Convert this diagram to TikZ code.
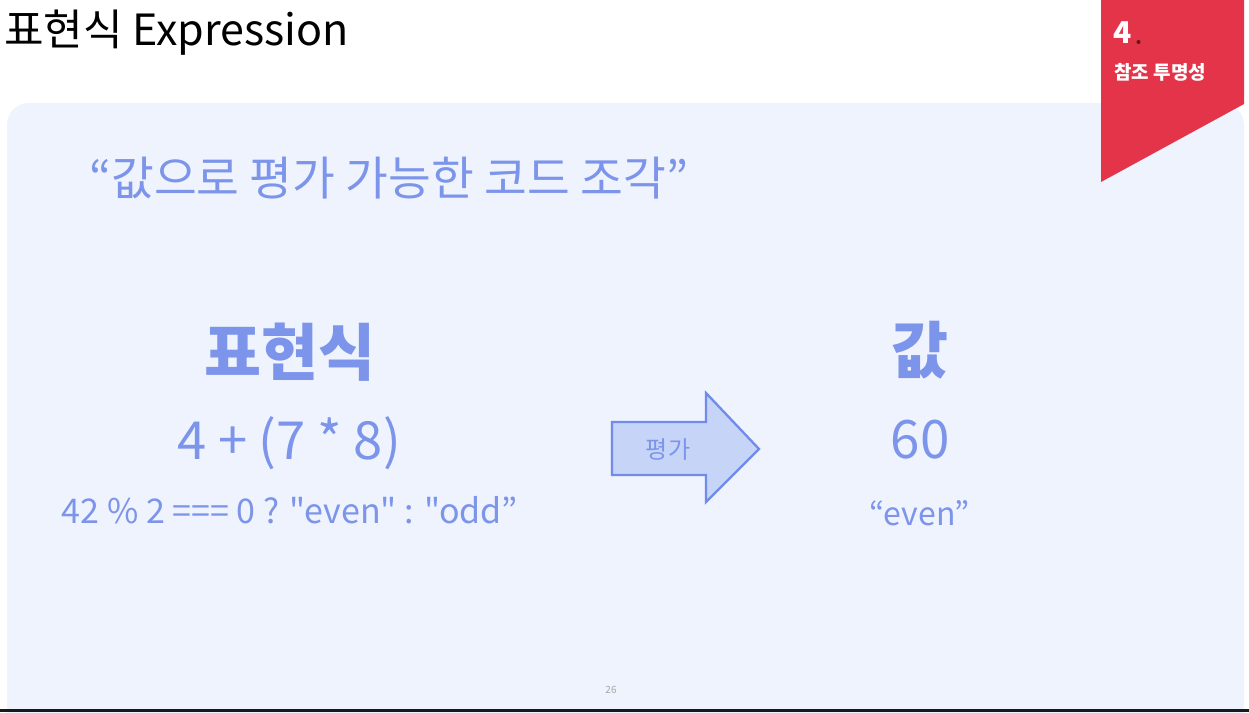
\documentclass[tikz,border=0pt]{standalone}
\usepackage{fontspec}
\setmainfont{Noto Sans CJK KR}
\newfontfamily\plainkr[Ligatures=NoCommon]{Noto Sans CJK KR}
\definecolor{panel}{RGB}{238,243,253}
\definecolor{accent}{RGB}{124,148,234}
\definecolor{arrowline}{RGB}{112,139,234}
\definecolor{arrowfill}{RGB}{198,212,248}
\definecolor{banner}{RGB}{227,52,74}
\tikzset{
  blue/.style={text=accent, inner sep=0pt},
}
\begin{document}
\begin{tikzpicture}[x=1pt,y=-1pt]
\useasboundingbox (0,0) rectangle (1249,712);
\fill[white] (0,0) rectangle (1249,712);
% panel
\fill[panel, rounded corners=22pt] (7,103) rectangle (1244,740);
\fill[black!90] (0,709) rectangle (1249,712);
% banner
\fill[banner] (1101,0) -- (1244,0) -- (1244,104) -- (1101,182) -- cycle;
\node[text=white, anchor=base west, inner sep=0pt, font=\bfseries\fontsize{30}{30}\selectfont] (num) at (1113,43.5) {4};
\fill[banner!40!black] (1138.5,42) circle (2pt);
\node[text=white, anchor=base west, inner sep=0pt, font=\bfseries\fontsize{19}{19}\selectfont] (sec) at (1114,79) {참조 투명성};
% title
\node[anchor=base west, inner sep=0pt, font=\fontsize{43}{43}\selectfont] (title) at (4,45) {표현식 Expression};
% quote
\node[blue, anchor=base west, font=\fontsize{46.5}{46.5}\selectfont] (quote) at (89,195) {“값으로 평가 가능한 코드 조각”};
% left column
\node[blue, anchor=base, font=\bfseries\fontsize{62}{62}\selectfont] (expr) at (290,375) {표현식};
\node[blue, anchor=base, font=\fontsize{52.5}{52.5}\selectfont] (e1) at (289,459) {4 + (7 * 8)};
\node[blue, anchor=base, font=\plainkr\fontsize{34}{34}\selectfont] (e2) at (290,523) {42 \% 2 === 0 ? "even" : "odd”};
% arrow
\draw[draw=arrowline, fill=arrowfill, line width=2.3pt, line join=miter]
  (612,422) -- (706,422) -- (706,393) -- (759,449) -- (706,502) -- (706,475) -- (612,475) -- cycle;
\node[blue, font=\fontsize{24}{24}\selectfont] (arrlbl) at (668,449) {평가};
% right column
\node[blue, anchor=base, font=\bfseries\fontsize{62}{62}\selectfont] (val) at (920,373) {값};
\node[blue, anchor=base, font=\fontsize{53}{53}\selectfont] (v1) at (920,458) {60};
\node[blue, anchor=base, font=\fontsize{32}{32}\selectfont] (v2) at (920,525) {“even”};
% page number
\node[text=black!35, anchor=center, inner sep=0pt, font=\fontsize{10}{10}\selectfont] (page) at (611,690) {26};
\end{tikzpicture}
\end{document}
